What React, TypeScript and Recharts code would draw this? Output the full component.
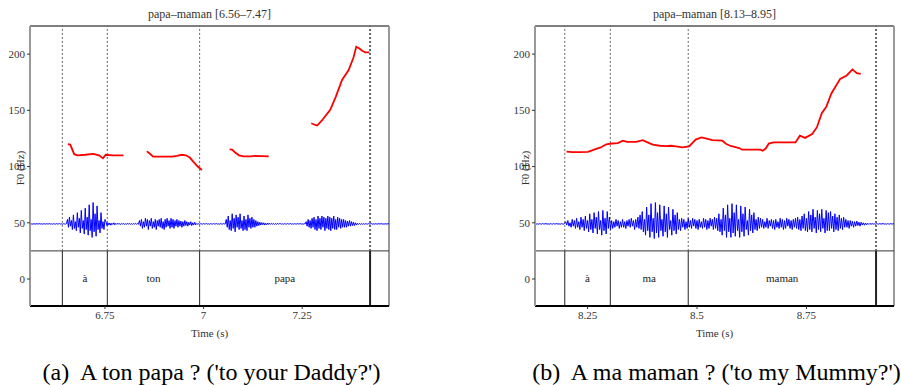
import React from 'react'
import { LineChart, Line, XAxis, YAxis, ReferenceLine, ReferenceArea } from 'recharts'

// shared y scale (F0 in Hz; waveform and word tier are drawn in the lower part)
const yRange = [-24, 225]
const yTicks = [0, 50, 100, 150, 200]
const TIER_TOP = 25
const WAVE_BASE = 49
const WAVE_STEP = 0.0025

// (a) A ton papa ?
const leftTitle = 'papa–maman [6.56–7.47]'
const leftRange = [6.56, 7.47]
const leftTicks = [6.75, 7, 7.25]
const leftBounds = [6.642, 6.756, 6.99, 7.422]
const leftWords = ['à', 'ton', 'papa']
const leftF0: [number, number | null][] = [
  [6.656, 120], [6.662, 119.5], [6.672, 111], [6.68, 110], [6.7, 110.5], [6.72, 111.3], [6.735, 110],
  [6.745, 107.3], [6.752, 110.5], [6.77, 110], [6.797, 110], [6.8, null],
  [6.856, 113.5], [6.862, 112], [6.872, 108.8], [6.9, 108.8], [6.92, 108.8], [6.932, 109.5], [6.945, 110.5],
  [6.955, 110], [6.965, 108], [6.975, 104], [6.985, 100], [6.996, 97], [7.0, null],
  [7.066, 115.3], [7.072, 115], [7.08, 112.5], [7.09, 110], [7.101, 109], [7.12, 109], [7.13, 109.5], [7.165, 109], [7.2, null],
  [7.273, 138.5], [7.283, 137], [7.288, 136.5], [7.3, 141], [7.321, 150.5], [7.335, 162], [7.351, 177], [7.368, 186],
  [7.38, 197], [7.387, 206.5], [7.395, 205], [7.402, 203], [7.41, 201.5], [7.42, 201.5],
]
const leftWaveStart = 6.56
const leftWave = [
  // silence
  0.3, -0.2, 0.1, -0.3, 0.2, 0, -0.2, 0.3, -0.1, 0, 0.3, -0.2, 0.1, -0.3, 0.2, 0, -0.2, 0.3, -0.1, 0,
  0.3, -0.2, 0.1, -0.3, 0.2, 0, -0.2, 0.3, -0.1, 0, 0.3, -0.2, 0.1, -0.3, 0.2, 0, -0.2, 0.3,
  // à
  4, -3, 6, -2, 3, -5, 8, -4, 2, -6, 10, -3, 5, -8, 12, -4, 3, -9, 14, -5,
  6, -10, 17, -6, 4, -12, 19, -7, 9, -11, 16, -5, 3, -8, 10, -4, 2, -5, 4,
  2, -1.5, 1, -1, 0.8, -1.2, 0.6, -0.5, 1, -0.8, 0.5, -0.4, 0.6, -0.3, 0.3, -0.5, 0.4, -0.2, 0.3, -0.4,
  0.2, -0.3, 0.4, -0.2, 0.3, -0.3, 0.2, -0.4, 0.3, -0.2, 0.4, -0.3, 0.5, -0.4,
  // ton
  3, -2, 4, -4, 2, -3, 5, -2, 4, -5, 3, -2, 5, -4, 2, -3, 4, -5, 3, -2,
  4, -3, 5, -4, 2, -5, 4, -3, 5, -2, 3, -4, 5, -3, 4, -4, 3, -2, 4, -3,
  3, -2, 2.5, -3, 2, -2, 3, -1.5, 2, -2, 1.5, -1, 2, -1.5, 1, -1, 1.5, -0.8,
  0.3, -0.2, 0.1, -0.3, 0.2, 0, -0.2, 0.3, -0.1, 0, 0.3, -0.2, 0.1, -0.3, 0.2, 0, -0.2, 0.3, -0.1, 0,
  0.3, -0.2, 0.1, -0.3, 0.2, 0, -0.2, 0.3, -0.1, 0,
  // pa
  4, -3, 7, -5, 3, -6, 9, -4, 5, -7, 8, -3, 6, -5, 9, -4, 3, -6, 7, -5,
  4, -6, 8, -3, 5, -4, 6, -3, 4, -3, 3, -2, 2, -1.5, 1.5,
  -1, 1.2, -0.8, 1, -1, 0.6, -0.7, 0.8, -0.5, 0.6, -0.4, 0.5, -0.3, 0.4, -0.5, 0.3, -0.3, 0.4, -0.2, 0.3,
  0.2, -0.2, 0.1, -0.3, 0.2, 0, -0.2, 0.3, -0.1, 0, 0.3, -0.2, 0.1, -0.3, 0.2, 0, -0.2, 0.3, -0.1, 0,
  0.3, -0.2, 0.1, -0.3, 0.2, 0,
  // pa
  2, -2, 4, -3, 3, -4, 5, -3, 6, -5, 4, -6, 7, -4, 5, -5, 7, -3, 6, -6,
  5, -4, 7, -5, 6, -6, 5, -4, 7, -5, 4, -5, 6, -3, 5, -4, 4, -3, 4, -3,
  3, -3, 2.5, -2, 3, -2, 2, -1.5, 1.5, -1.5, 1, -1,
  0.6, -0.5, 0.4, -0.4, 0.3, -0.3, 0.2, -0.3, 0.2, 0, -0.2, 0.3, -0.1, 0, 0.3, -0.2, 0.1, -0.3, 0.2, 0,
  -0.2, 0.3, -0.1, 0, 0.3, -0.2, 0.1, -0.3, 0.2, 0, -0.2, 0.3, 0,
]

// (b) A ma maman ?
const rightTitle = 'papa–maman [8.13–8.95]'
const rightRange = [8.13, 8.95]
const rightTicks = [8.25, 8.5, 8.75]
const rightBounds = [8.198, 8.302, 8.48, 8.909]
const rightWords = ['à', 'ma', 'maman']
const rightF0: [number, number | null][] = [
  [8.202, 113.2], [8.215, 112.8], [8.23, 112.8], [8.251, 113], [8.265, 115], [8.28, 117], [8.293, 119.8],
  [8.305, 120.5], [8.319, 120.8], [8.331, 123], [8.34, 122], [8.361, 122], [8.376, 123.5], [8.387, 121.5],
  [8.399, 119.5], [8.415, 118.5], [8.429, 118.2], [8.44, 118.5], [8.452, 118], [8.467, 117], [8.482, 118],
  [8.497, 124], [8.51, 126], [8.52, 125], [8.535, 123.5], [8.558, 123], [8.567, 120], [8.577, 118.3],
  [8.596, 116.5], [8.603, 115], [8.625, 115], [8.645, 115], [8.65, 114], [8.657, 116], [8.664, 120.5],
  [8.675, 121.5], [8.7, 121.5], [8.725, 121.5], [8.735, 127.5], [8.747, 125.5], [8.763, 129], [8.774, 135],
  [8.785, 147.5], [8.795, 153], [8.807, 165], [8.827, 178], [8.842, 181], [8.855, 186.4], [8.865, 183], [8.874, 182.5],
]
const rightWaveStart = 8.13
const rightWave = [
  // silence
  0.3, -0.2, 0.1, -0.3, 0.2, 0, -0.2, 0.3, -0.1, 0, 0.3, -0.2, 0.1, -0.3, 0.2, 0, -0.2, 0.3, -0.1, 0,
  0.3, -0.2, 0.1, -0.3, 0.2, 0, -0.2, 0.3,
  // à
  2, -1, 3, -2, 1, -3, 4, -2, 3, -4, 5, -3, 2, -5, 6, -3, 4, -6, 7, -4,
  3, -7, 9, -5, 4, -8, 10, -4, 6, -9, 11, -5, 3, -10, 12, -6, 5, -9, 11, -4, 6, -5,
  3, -4, 2, -3, 4, -2, 3, -4, 2, -3, 4, -3, 2, -4, 3, -2, 4, -3, 5, -2, 3, -5, 4, -3, 6, -4,
  // ma
  8, -5, 11, -7, 4, -10, 15, -6, 8, -12, 18, -7, 5, -13, 19, -8, 10, -12, 17, -6,
  4, -11, 16, -7, 9, -12, 15, -5, 3, -10, 13, -6, 8, -9, 10, -5, 4, -6,
  5, -3, 4, -5, 2, -4, 5, -3, 3, -4, 5, -2, 4, -4, 3, -5, 4, -3, 2, -4,
  5, -3, 4, -5, 3, -4, 5, -2, 4, -5, 6, -4, 5, -6,
  // ma
  9, -7, 4, -10, 14, -6, 8, -12, 17, -7, 5, -12, 18, -8, 10, -11, 17, -6, 4, -12,
  16, -7, 9, -11, 15, -5, 3, -10, 13, -6, 8, -8, 10, -5, 4, -6, 6,
  -4, 5, -3, 4, -4, 2, -3, 5, -4, 3, -2, 4, -4, 3, -5, 4, -3, 2, -4, 5,
  -3, 4, -5, 3, -4, 5, -2, 4, -4, 3, -5, 4, -3, 5, -4, 6, -5, 4, -6,
  // man
  7, -4, 9, -6, 5, -7, 11, -5, 8, -7, 13, -4, 6, -8, 12, -5, 9, -7, 13, -4,
  5, -8, 12, -6, 10, -6, 11, -4, 7, -7, 9, -5, 6, -6, 8, -4, 5, -5, 6, -3,
  4, -3, 3, -4, 3, -2, 2.5, -3, 2, -2, 2.5, -1.5, 1.5, -2, 1.5, -1, 1, -1.2, 0.8, -0.8, 0.6, -0.5, 0.5, -0.4,
  0.3, -0.2, 0.1, -0.3, 0.2, 0, -0.2, 0.3, -0.1, 0, 0.3, -0.2, 0.1, -0.3, 0.2, 0, -0.2, 0.3, -0.1, 0, 0.2,
]

const serif = '"Liberation Serif", "DejaVu Serif", serif'
const small = { fontSize: 11, fill: '#333', fontFamily: serif }

const toF0 = (pts: [number, number | null][]) => pts.map(([t, hz]) => ({ t, hz }))
const toWave = (start: number, samples: number[]) =>
  samples.map((a, i) => ({ t: +(start + i * WAVE_STEP).toFixed(5), w: WAVE_BASE + a }))

type PanelProps = {
  x: number
  width: number
  right: number
  title: string
  range: number[]
  ticks: number[]
  bounds: number[]
  words: string[]
  f0: [number, number | null][]
  waveStart: number
  wave: number[]
  caption: string
  captionShift: number
}

function Panel(p: PanelProps) {
  const f0Data = toF0(p.f0)
  const waveData = toWave(p.waveStart, p.wave)
  const plotLeft = p.x + 30
  const plotRight = p.x + p.width - p.right
  const mid = (plotLeft + plotRight) / 2
  return (
    <>
      <div style={{ position: 'absolute', left: mid - 150, width: 300, top: 7, textAlign: 'center', fontFamily: serif, fontSize: 12, color: '#333' }}>
        {p.title}
      </div>
      <div
        style={{
          position: 'absolute', left: plotLeft - 10, top: 168, transform: 'translate(-50%, -50%) rotate(-90deg)',
          fontFamily: serif, fontSize: 11, color: '#333', whiteSpace: 'nowrap',
        }}
      >
        F0 (Hz)
      </div>
      <div style={{ position: 'absolute', left: p.x }}>
        <LineChart width={p.width} height={345} margin={{ top: 26, right: p.right, bottom: 5, left: 0 }}>
          <XAxis
            type="number"
            dataKey="t"
            domain={p.range}
            ticks={p.ticks}
            allowDataOverflow
            height={34}
            tickSize={3}
            tick={small}
            tickLine={{ stroke: '#333' }}
            axisLine={{ stroke: '#000', strokeWidth: 2 }}
            label={{ value: 'Time (s)', position: 'insideBottom', offset: 3, ...small }}
          />
          <YAxis
            type="number"
            domain={yRange}
            ticks={yTicks}
            allowDataOverflow
            width={30}
            tickSize={3}
            tick={small}
            tickLine={{ stroke: '#333' }}
            axisLine={{ stroke: '#999', strokeWidth: 2 }}
          />
          <ReferenceLine y={yRange[1]} stroke="#555" strokeWidth={1.5} />
          <ReferenceLine x={p.range[1]} stroke="#999" strokeWidth={2} />
          <ReferenceLine y={TIER_TOP} stroke="#333" />
          {p.bounds.map((b, i) => (
            <ReferenceLine
              key={'u' + i}
              segment={[{ x: b, y: TIER_TOP }, { x: b, y: yRange[1] }]}
              stroke="#666"
              strokeDasharray="2 2"
              strokeWidth={i === p.bounds.length - 1 ? 2 : 1}
            />
          ))}
          {p.bounds.map((b, i) => (
            <ReferenceLine
              key={'l' + i}
              segment={[{ x: b, y: yRange[0] }, { x: b, y: TIER_TOP }]}
              stroke="#222"
              strokeWidth={i === p.bounds.length - 1 ? 2 : 1}
            />
          ))}
          {p.words.map((w, i) => (
            <ReferenceArea
              key={'w' + i}
              x1={p.bounds[i]}
              x2={p.bounds[i + 1]}
              y1={yRange[0]}
              y2={TIER_TOP}
              fillOpacity={0}
              strokeOpacity={0}
              label={{ value: w, position: 'center', ...small, fill: '#222' }}
            />
          ))}
          <Line data={waveData} dataKey="w" stroke="#0000ff" strokeWidth={1} dot={false} isAnimationActive={false} />
          <Line data={f0Data} dataKey="hz" stroke="#ff0000" strokeWidth={1.8} dot={false} connectNulls={false} isAnimationActive={false} />
        </LineChart>
      </div>
      <div style={{ position: 'absolute', left: mid - 230 + p.captionShift, width: 460, top: 358, textAlign: 'center', fontFamily: serif, fontSize: 24, lineHeight: '28px', color: '#000', whiteSpace: 'pre' }}>
        {p.caption}
      </div>
    </>
  )
}

export default function App() {
  return (
    <div style={{ position: 'absolute', left: 0, top: 0, width: 901, height: 385, background: '#fff', overflow: 'hidden' }}>
      <Panel
        x={0} width={450} right={61}
        title={leftTitle} range={leftRange} ticks={leftTicks} bounds={leftBounds} words={leftWords}
        f0={leftF0} waveStart={leftWaveStart} wave={leftWave}
        caption={"(a)  A ton papa ? ('to your Daddy?')"} captionShift={2}
      />
      <Panel
        x={505} width={396} right={7}
        title={rightTitle} range={rightRange} ticks={rightTicks} bounds={rightBounds} words={rightWords}
        f0={rightF0} waveStart={rightWaveStart} wave={rightWave}
        caption={"(b)  A ma maman ? ('to my Mummy?')"} captionShift={2}
      />
    </div>
  )
}
